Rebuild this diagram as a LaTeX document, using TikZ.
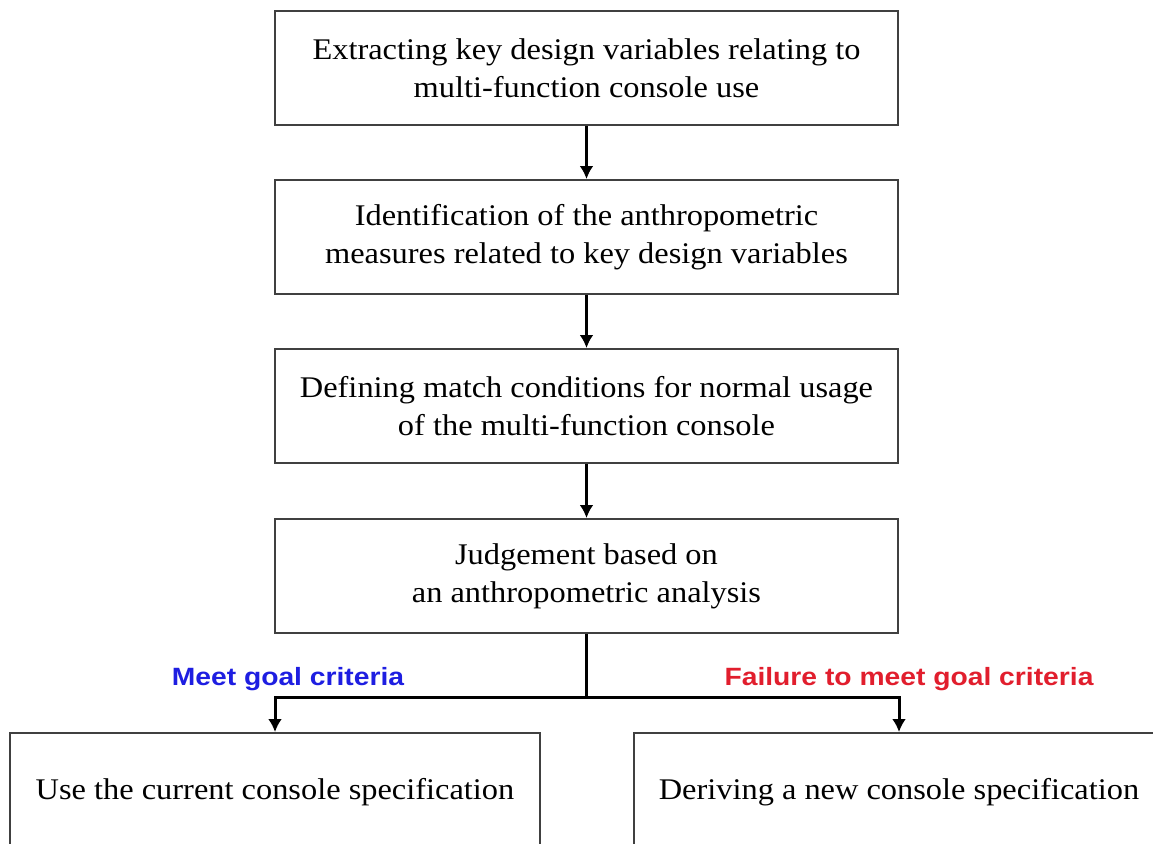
\documentclass[tikz,border=0pt]{standalone}
\usepackage{fontspec}
\setmainfont{Liberation Serif}[FakeStretch=1.08]
\newfontfamily\criteriafont{Liberation Sans}[FakeStretch=1.13]
\usetikzlibrary{arrows.meta}
\definecolor{meetblue}{RGB}{30,30,225}
\definecolor{failred}{RGB}{225,30,45}

\begin{document}
\begin{tikzpicture}[x=1pt,y=-1pt]
\tikzstyle{stage}=[draw=black!75, line width=2pt, minimum width=623pt, minimum height=114pt, inner sep=0pt, align=center, font=\fontsize{30}{38}\selectfont]
\tikzstyle{result}=[stage, minimum width=530pt, minimum height=118pt]
\tikzstyle{link}=[-{Latex[length=13pt,width=14pt]}, line width=3pt]
\tikzstyle{criteria}=[anchor=base, font=\criteriafont\bfseries\fontsize{25}{30}\selectfont]

\clip (0,0) rectangle (1153,843);

%%%%%%%%%%%%%%%%%%%%%%%%%%%%%%
%%%%%
%%%%% ETAPAS
\coordinate (extract) at (586.5,68);
\coordinate (identify) at (586.5,237);
\coordinate (define) at (586.5,406);
\coordinate (judge) at (586.5,576);

%%%%% RESULTADOS
\coordinate (keep) at (275,792);
\coordinate (derive) at (899,792);

%%%%% BIFURCACION
\coordinate (split) at (586.5,697);

%%%%%%%%%%%%%%%
%%%%% CAJAS
\node[stage] (extract) at (extract) {Extracting key design variables relating to\\multi-function console use};
\node[stage] (identify) at (identify) {Identification of the anthropometric\\measures related to key design variables};
\node[stage] (define) at (define) {Defining match conditions for normal usage\\of the multi-function console};
\node[stage] (judge) at (judge) {Judgement based on\\an anthropometric analysis};

\node[result] (keep) at (keep) {Use the current console specification};
\node[result] (derive) at (derive) {Deriving a new console specification};

%%%%%%%%%%%%%%%
%%%%% CONEXIONES
\draw[link] (extract) -- (identify);
\draw[link] (identify) -- (define);
\draw[link] (define) -- (judge);

\draw[line width=3pt] (judge) -- (split);
\draw[link] (split) -| (keep);
\draw[link] (split) -| (derive);

%%%%%%%%%%%%%%%
%%%%% CRITERIOS
\node[criteria, meetblue] (meet) at (288,685) {Meet goal criteria};
\node[criteria, failred] (fail) at (909,685) {Failure to meet goal criteria};

\end{tikzpicture}
\end{document}
